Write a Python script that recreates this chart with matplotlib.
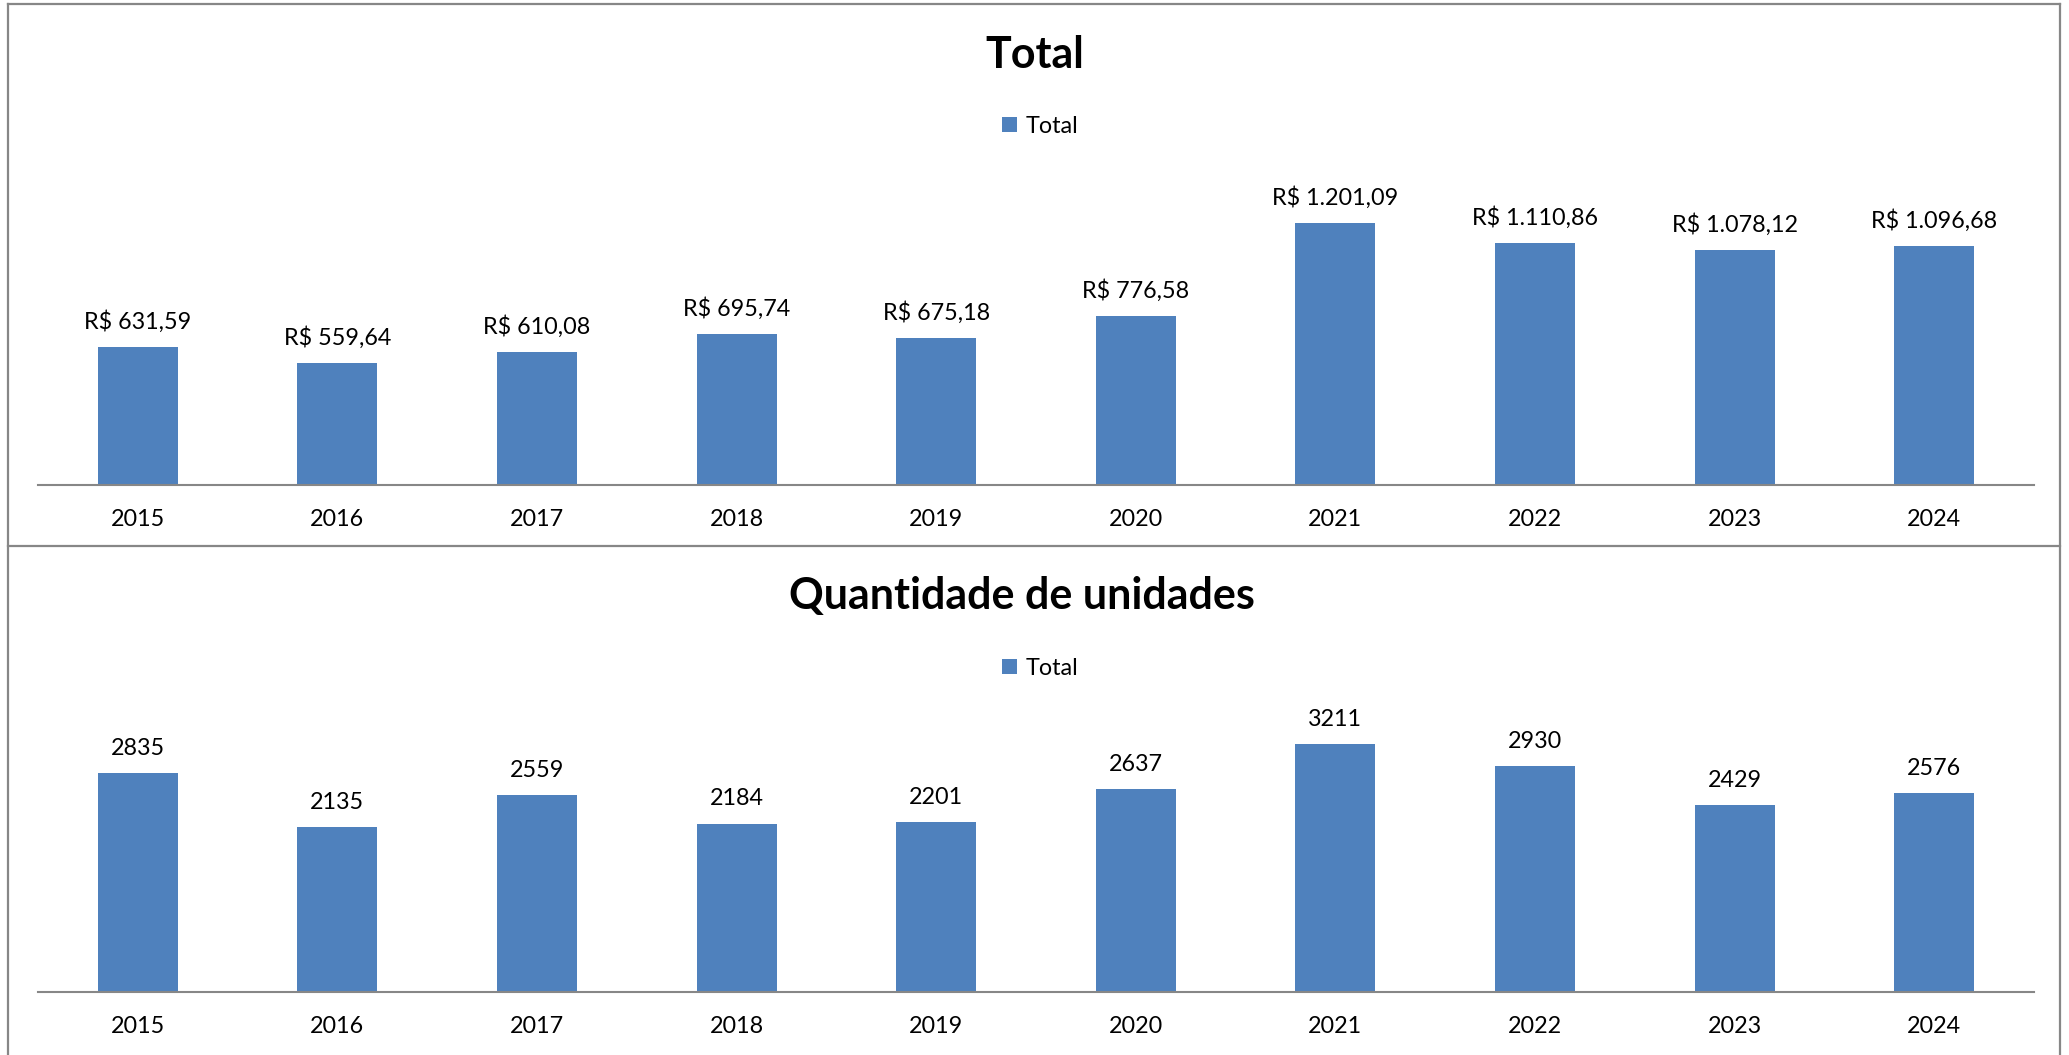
import matplotlib
matplotlib.use('Agg')
import matplotlib.pyplot as plt
from matplotlib.lines import Line2D

# ── Data ──
years = ['2015', '2016', '2017', '2018', '2019', '2020', '2021', '2022', '2023', '2024']
total_values = [631.59, 559.64, 610.08, 695.74, 675.18, 776.58, 1201.09, 1110.86, 1078.12, 1096.68]
unit_values = [2835, 2135, 2559, 2184, 2201, 2637, 3211, 2930, 2429, 2576]

BAR_COLOR = '#4F81BD'
LINE_COLOR = '#878787'
FONT = ['Lato', 'DejaVu Sans']

plt.rcParams['font.family'] = FONT

W, H = 2069, 1056


def brl(v):
    s = f"{v:,.2f}".replace(',', 'X').replace('.', ',').replace('X', '.')
    return f"R$ {s}"


def fx(px):
    return px / W


def fy(py):
    return 1 - py / H


def draw_chart(fig, rect, values, ymax, title, title_xy, legend_xy, fmt):
    ax = fig.add_axes(rect)
    x = list(range(len(years)))
    bars = ax.bar(x, values, width=0.4, color=BAR_COLOR, label='Total')
    ax.set_xlim(-0.5, len(years) - 0.5)
    ax.set_ylim(0, ymax)
    ax.set_xticks(x)
    ax.set_xticklabels(years, fontsize=16.8)
    ax.tick_params(axis='x', length=0, pad=17)
    ax.set_yticks([])
    for side in ('top', 'left', 'right'):
        ax.spines[side].set_visible(False)
    ax.spines['bottom'].set_color(LINE_COLOR)
    ax.spines['bottom'].set_linewidth(1.5)

    # value labels above bars
    for bar, val in zip(bars, values):
        ax.annotate(fmt(val), (bar.get_x() + bar.get_width() / 2, bar.get_height()),
                    xytext=(0, 13.5), textcoords='offset points',
                    ha='center', va='baseline', fontsize=16.8, clip_on=False)

    fig.text(title_xy[0], title_xy[1], title, ha='center', va='center',
             fontsize=31, fontweight='bold')
    fig.legend(handles=[bars], labels=['Total'], loc='center',
               bbox_to_anchor=legend_xy, frameon=False, fontsize=16.8,
               handlelength=0.65, handleheight=0.65, handletextpad=0.35)
    return ax


fig = plt.figure(figsize=(W / 100, (H - 0.4) / 100), dpi=100)

# ── Chart borders ──
for (x0, y0, x1, y1) in [(8, 5, 2060, 5), (8, 547, 2060, 547),
                         (8, 5, 8, 1056), (2060, 5, 2060, 1056)]:
    fig.add_artist(Line2D([fx(x0), fx(x1)], [fy(y0), fy(y1)],
                          color=LINE_COLOR, linewidth=1.6))

# ── Total (R$) ──
draw_chart(fig, [fx(38), fy(486), fx(1996), (486 - 180.6) / H],
           total_values, 1400, 'Total', (fx(1035), fy(55)),
           (fx(1040), fy(127)), brl)

# ── Quantidade de unidades ──
draw_chart(fig, [fx(38), fy(993), fx(1996), 270 / H],
           unit_values, 3500, 'Quantidade de unidades', (fx(1022), fy(596)),
           (fx(1040), fy(669)), lambda v: f"{v}")

fig.savefig('out.png', dpi=100)
plt.close(fig)
